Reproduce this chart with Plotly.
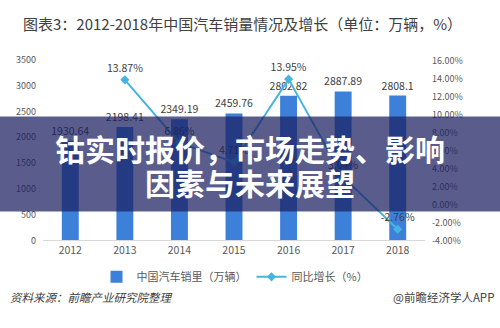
import plotly.graph_objects as go

years = ["2012", "2013", "2014", "2015", "2016", "2017", "2018"]
sales = [1930.64, 2198.41, 2349.19, 2459.76, 2802.82, 2887.89, 2808.1]
growth_years = ["2013", "2014", "2015", "2016", "2017", "2018"]
growth = [13.87, 6.86, 4.71, 13.95, 3.04, -2.76]
left_ticks = [0, 500, 1000, 1500, 2000, 2500, 3000, 3500]
right_ticks = [-4, -2, 0, 2, 4, 6, 8, 10, 12, 14, 16]

W, H = 500, 328
def py(p):
    return 1 - p / H

FONT = "Noto Sans CJK SC, Noto Sans, DejaVu Sans"
BAR = "#3d80d9"
LINE = "#45b5e0"
TXT = "#404040"
TICK = "#595959"

fig = go.Figure()
fig.add_trace(go.Bar(
    x=years, y=sales, name="中国汽车销里（万辆）",
    marker=dict(color=BAR, line=dict(width=0)), width=0.31,
    text=[str(v) for v in sales], textposition="outside", constraintext="none",
    textfont=dict(size=10.5, color=TXT, family=FONT), cliponaxis=False,
))
fig.add_trace(go.Scatter(
    x=growth_years, y=growth, yaxis="y2", name="同比增长（%）",
    mode="lines+markers+text",
    line=dict(color=LINE, width=2),
    marker=dict(symbol="diamond", size=7, color=LINE),
    text=[f"{v:.2f}%" for v in growth], textposition="top center",
    textfont=dict(size=10.5, color=TXT, family=FONT), cliponaxis=False,
))

fig.update_layout(
    width=W, height=H, margin=dict(l=0, r=0, t=0, b=0),
    paper_bgcolor="white", plot_bgcolor="white",
    font=dict(family=FONT, color=TICK),
    bargap=0.69,
    xaxis=dict(domain=[43 / W, 425 / W], type="category", showgrid=False,
               showline=True, linecolor="#d9d9d9", linewidth=1, ticks="",
               tickfont=dict(size=10.5, color=TICK), fixedrange=True),
    yaxis=dict(domain=[py(243), py(55)], range=[0, 3500], tickvals=left_ticks,
               showgrid=False, zeroline=False, showline=False,
               tickfont=dict(size=9, color=TICK), ticklabelstandoff=6),
    yaxis2=dict(overlaying="y", side="right", range=[-4, 16.1],
                tickvals=right_ticks,
                ticktext=[f"{v:.2f}%" for v in right_ticks],
                showgrid=False, zeroline=False, showline=False,
                tickfont=dict(size=9, color=TICK), ticklabelstandoff=6),
    legend=dict(orientation="h", x=0.47, xanchor="center", y=py(281), yanchor="middle",
                font=dict(size=11, color=TICK), itemwidth=30, traceorder="normal"),
    showlegend=True,
)

fig.add_annotation(xref="paper", yref="paper", x=242 / W, y=py(17), showarrow=False,
                   text="图表3：2012-2018年中国汽车销量情况及增长（单位：万辆，%）",
                   font=dict(size=15, color=TXT, family=FONT), xanchor="center", yanchor="middle")
fig.add_annotation(xref="paper", yref="paper", x=8 / W, y=py(302), showarrow=False,
                   text="<i>资料来源：前瞻产业研究院整理</i>",
                   font=dict(size=11.5, color=TXT, family=FONT), xanchor="left", yanchor="middle")
fig.add_annotation(xref="paper", yref="paper", x=496 / W, y=py(302), showarrow=False,
                   text="@前瞻经济学人APP",
                   font=dict(size=11.5, color=TXT, family=FONT), xanchor="right", yanchor="middle")

# overlay band
fig.add_shape(type="rect", xref="paper", yref="paper", x0=0, x1=1, y0=py(213), y1=py(114),
              fillcolor="rgba(26,30,95,0.72)", line=dict(width=0), layer="above")
fig.add_annotation(xref="paper", yref="paper", x=0.5, y=py(147), showarrow=False,
                   text="<b>钴实时报价，市场走势、影响</b>",
                   font=dict(size=30, color="white", family=FONT), xanchor="center", yanchor="middle")
fig.add_annotation(xref="paper", yref="paper", x=0.5, y=py(182), showarrow=False,
                   text="<b>因素与未来展望</b>",
                   font=dict(size=30, color="white", family=FONT), xanchor="center", yanchor="middle")

fig.write_html("out.html")
